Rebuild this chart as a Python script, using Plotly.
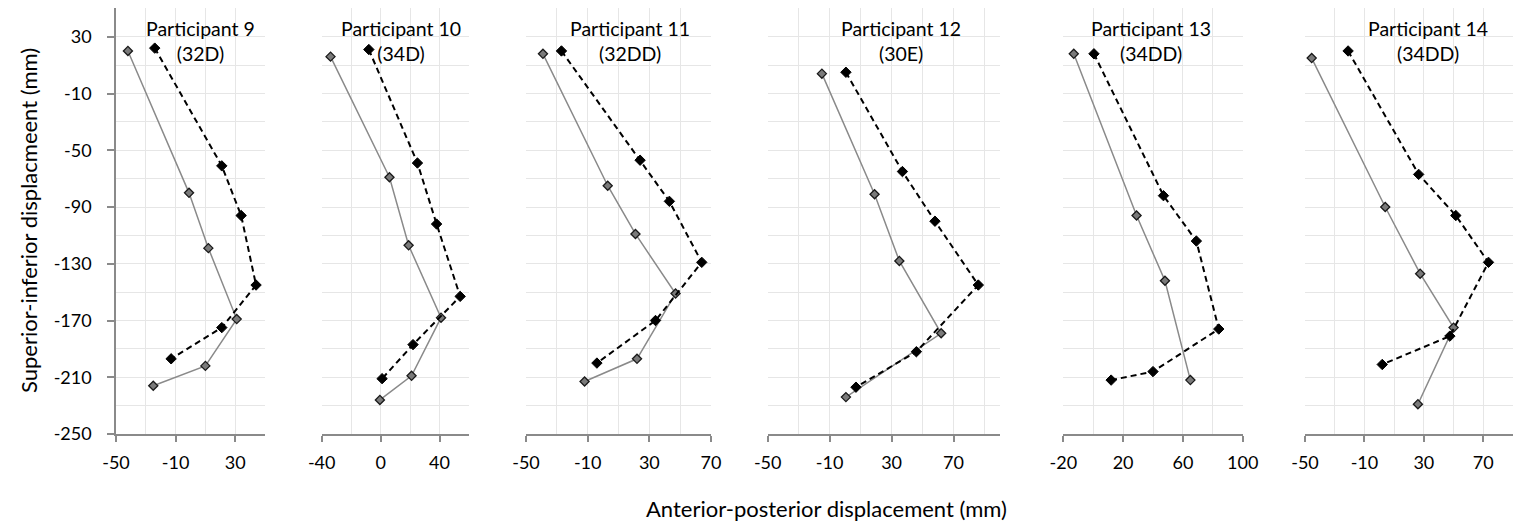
import plotly.graph_objects as go

W, H = 1513, 527

titles = ["Participant 9<br>(32D)", "Participant 10<br>(34D)", "Participant 11<br>(32DD)",
          "Participant 12<br>(30E)", "Participant 13<br>(34DD)", "Participant 14<br>(34DD)"]

p9_solid_x = [-42, -1, 12, 31, 10, -25]
p9_solid_y = [20, -80, -119, -169, -202, -216]
p9_dashed_x = [-24, 21, 34, 44, 21, -13]
p9_dashed_y = [22, -61, -96, -145, -175, -197]

p10_solid_x = [-34, 6, 19, 41, 21, -0.5]
p10_solid_y = [16, -69, -117, -168, -209, -226]
p10_dashed_x = [-8, 25, 38, 54, 22, 1]
p10_dashed_y = [21, -59, -102, -153, -187, -211]

p11_solid_x = [-39, 3, 21, 47, 22, -12]
p11_solid_y = [18, -75, -109, -151, -197, -213]
p11_dashed_x = [-27, 24, 43, 64, 34, -4]
p11_dashed_y = [20, -57, -86, -129, -170, -200]

p12_solid_x = [-15, 19, 35, 62, 0.5]
p12_solid_y = [4, -81, -128, -179, -224]
p12_dashed_x = [0.5, 37, 58, 86, 46, 7]
p12_dashed_y = [5, -65, -100, -145, -192, -217]

p13_solid_x = [-13, 29, 48, 65]
p13_solid_y = [18, -96, -142, -212]
p13_dashed_x = [0.5, 47, 69, 84, 40, 12]
p13_dashed_y = [18, -82, -114, -176, -206, -212]

p14_solid_x = [-45.5, 4, 27.5, 50, 26]
p14_solid_y = [15, -90, -137, -175, -229]
p14_dashed_x = [-21, 26.5, 51.5, 73.5, 47.5, 2]
p14_dashed_y = [20, -67, -96, -129, -181, -201]

x_ranges = [[-50, 50], [-40, 60], [-50, 70], [-50, 100], [-20, 100], [-50, 90]]
x_tickvals = [[-50, -10, 30], [-40, 0, 40], [-50, -10, 30, 70],
              [-50, -10, 30, 70], [-20, 20, 60, 100], [-50, -10, 30, 70]]
y_range = [-250, 50]
y_tickvals = [30, -10, -50, -90, -130, -170, -210, -250]

solid = [(p9_solid_x, p9_solid_y), (p10_solid_x, p10_solid_y), (p11_solid_x, p11_solid_y),
         (p12_solid_x, p12_solid_y), (p13_solid_x, p13_solid_y), (p14_solid_x, p14_solid_y)]
dashed = [(p9_dashed_x, p9_dashed_y), (p10_dashed_x, p10_dashed_y), (p11_dashed_x, p11_dashed_y),
          (p12_dashed_x, p12_dashed_y), (p13_dashed_x, p13_dashed_y), (p14_dashed_x, p14_dashed_y)]

# layout (pixel positions of plot areas)
px_left = [116, 321.7, 526, 767.7, 1063.3, 1305]
px_right = [265, 469, 711, 1000, 1242.7, 1513]
title_cx = [200, 400.5, 629.7, 901, 1151, 1428]
plot_top, plot_bottom = 8.4, 434

FONT = "Lato"
FS_TICK = 18
FS_TITLE = 19.5
FS_AXT = 22
GRID = "#e6e6e6"
AXIS = "#8a8a8a"


def lbl(v):
    return str(v).replace("\u2212", "-")


fig = go.Figure()
layout = dict(width=W, height=H, margin=dict(l=0, r=0, t=0, b=0, autoexpand=False),
              plot_bgcolor="white", paper_bgcolor="white", showlegend=False,
              font=dict(family=FONT, size=FS_TICK, color="#000000"))
annotations = []
ydom = [1 - plot_bottom / H, 1 - plot_top / H]

for i in range(6):
    xa = "x" if i == 0 else f"x{i+1}"
    ya = "y" if i == 0 else f"y{i+1}"
    sx, sy = solid[i]
    dx, dy = dashed[i]
    fig.add_trace(go.Scatter(x=sx, y=sy, mode="lines+markers", xaxis=xa, yaxis=ya,
                             line=dict(color="#8a8a8a", width=1.5),
                             marker=dict(symbol="diamond", size=7, color="#7a7a7a",
                                         line=dict(color="#1a1a1a", width=1.3))))
    fig.add_trace(go.Scatter(x=dx, y=dy, mode="lines+markers", xaxis=xa, yaxis=ya,
                             line=dict(color="#000000", width=2, dash="6px,4px"),
                             marker=dict(symbol="diamond", size=8, color="#000000",
                                         line=dict(color="#000000", width=1))))
    xr = x_ranges[i]
    layout["xaxis" if i == 0 else f"xaxis{i+1}"] = dict(
        domain=[px_left[i] / W, px_right[i] / W], range=xr, anchor=ya, automargin=False,
        tickmode="array", tickvals=x_tickvals[i], ticktext=[lbl(v) for v in x_tickvals[i]],
        showgrid=True, gridcolor=GRID, gridwidth=1,
        minor=dict(dtick=20, tick0=xr[0], showgrid=True, gridcolor=GRID, gridwidth=1),
        showline=True, linecolor=AXIS, linewidth=1.5, ticks="outside", ticklen=6,
        tickcolor=AXIS, tickwidth=1.5, zeroline=False, ticklabelstandoff=6,
        tickfont=dict(family=FONT, size=FS_TICK, color="#000000"), fixedrange=True)
    layout["yaxis" if i == 0 else f"yaxis{i+1}"] = dict(
        domain=ydom, range=y_range, anchor=xa, automargin=False,
        tickmode="array", tickvals=y_tickvals, ticktext=[lbl(v) for v in y_tickvals],
        showgrid=True, gridcolor=GRID, gridwidth=1,
        minor=dict(dtick=20, tick0=30, showgrid=True, gridcolor=GRID, gridwidth=1),
        showline=(i == 0), linecolor=AXIS, linewidth=1.5,
        ticks="outside" if i == 0 else "", ticklen=7, tickcolor=AXIS, tickwidth=1.5,
        showticklabels=(i == 0), zeroline=False, ticklabelstandoff=12,
        tickfont=dict(family=FONT, size=FS_TICK, color="#000000"), fixedrange=True)
    annotations.append(dict(text=titles[i], x=title_cx[i] / W, y=1 - 40.5 / H,
                            xref="paper", yref="paper", xanchor="center", yanchor="middle",
                            showarrow=False, font=dict(family=FONT, size=FS_TITLE, color="#000000")))

annotations.append(dict(text="Superior-inferior displacmeent (mm)", x=28 / W, y=1 - 221 / H,
                        xref="paper", yref="paper", xanchor="center", yanchor="middle",
                        textangle=-90, showarrow=False,
                        font=dict(family=FONT, size=FS_AXT, color="#000000")))
annotations.append(dict(text="Anterior-posterior displacement (mm)", x=826 / W, y=1 - 508 / H,
                        xref="paper", yref="paper", xanchor="center", yanchor="middle",
                        showarrow=False, font=dict(family=FONT, size=FS_AXT, color="#000000")))
layout["annotations"] = annotations
fig.update_layout(**layout)
fig.write_html("out.html", config={"displayModeBar": False},
               post_script="document.body.style.margin='0';document.body.style.padding='0';"
                           "document.body.style.overflow='hidden';")
